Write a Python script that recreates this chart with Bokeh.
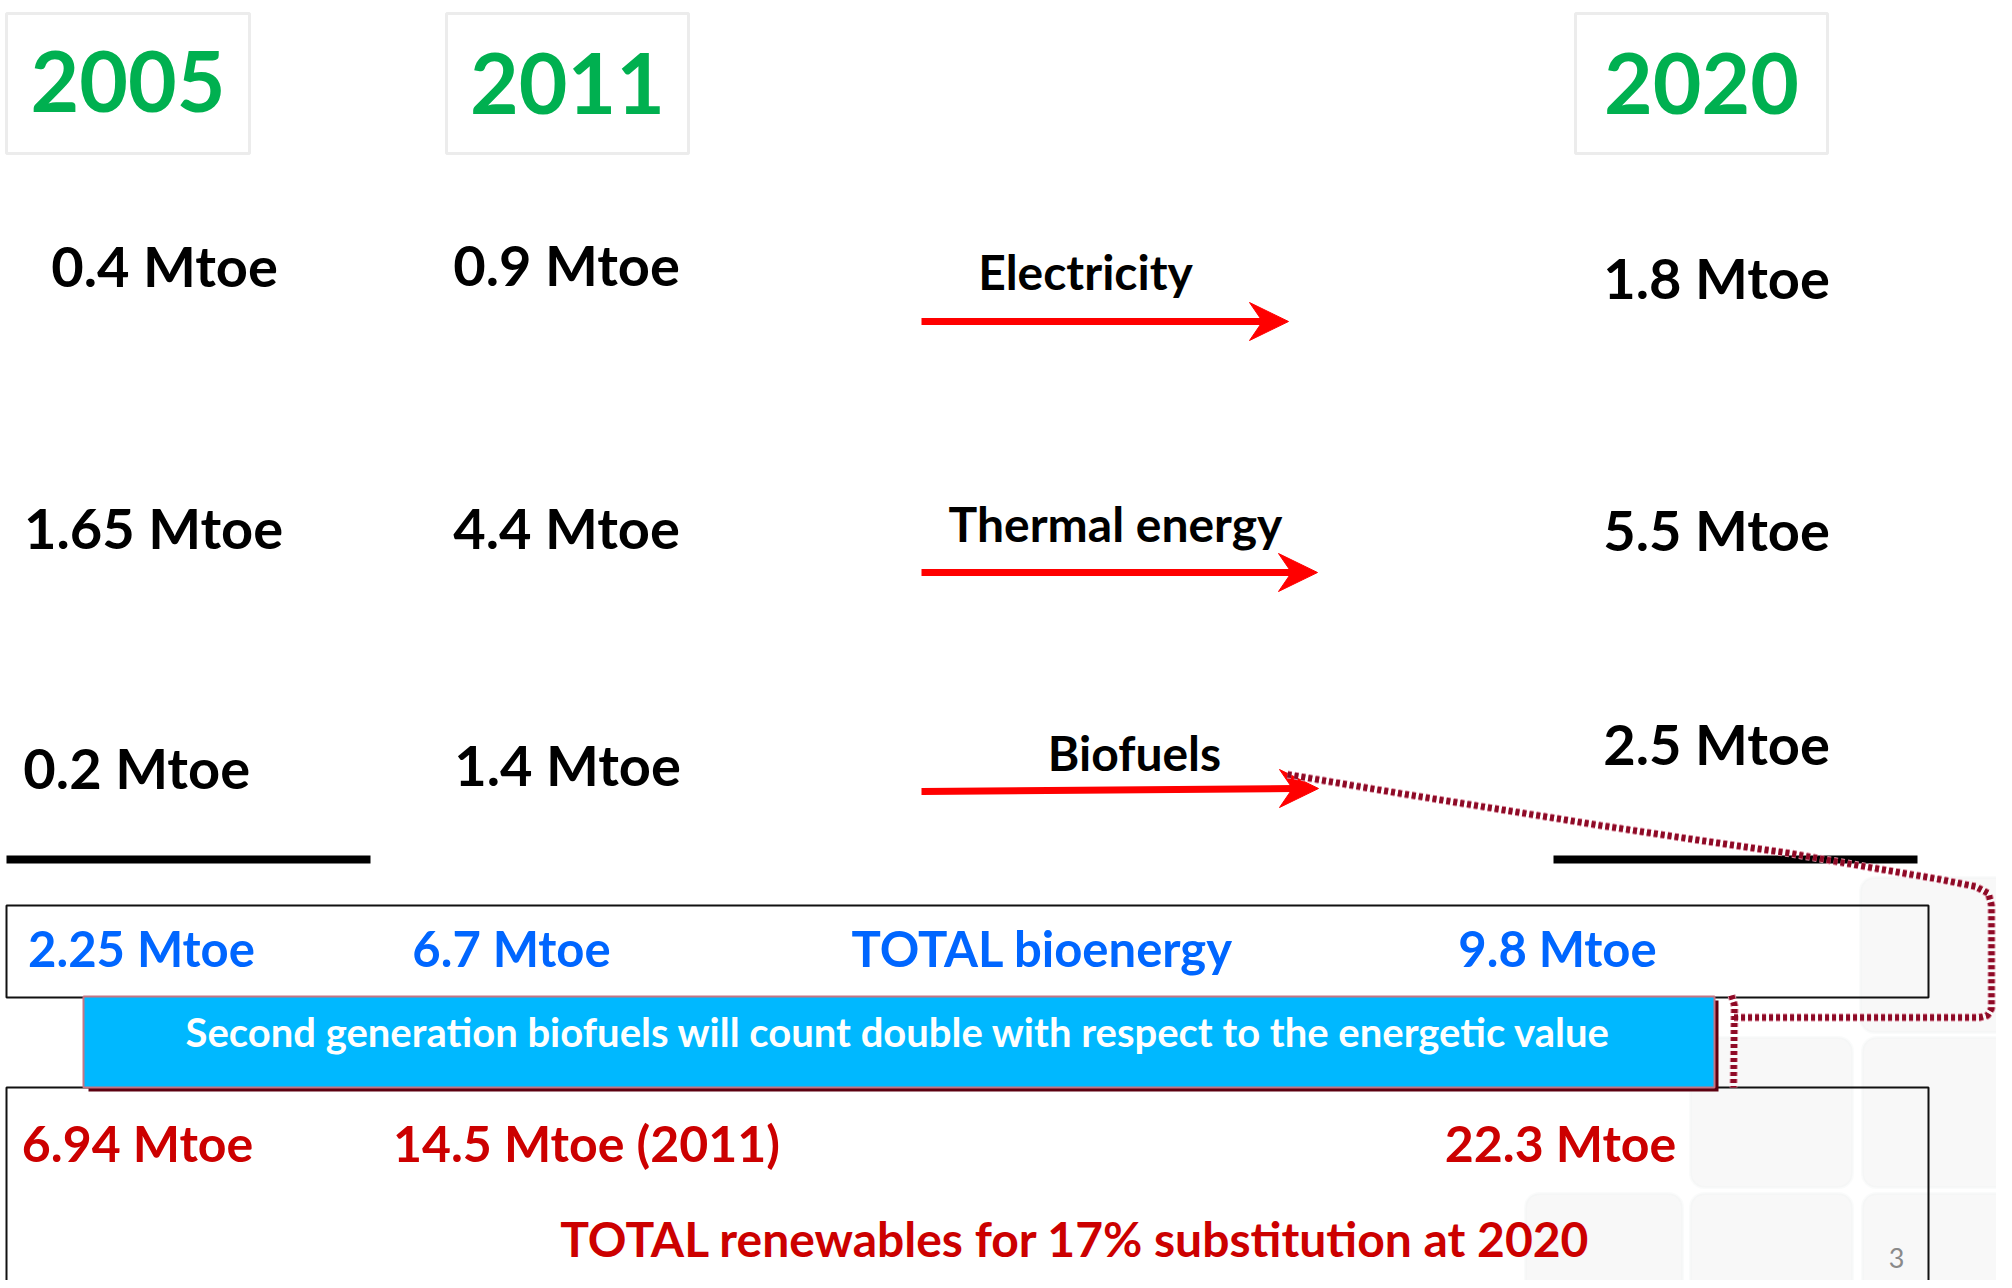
from bokeh.plotting import figure
from bokeh.models import Range1d, BoxAnnotation
from bokeh.core.properties import value
from bokeh.embed import file_html
from bokeh.resources import INLINE

# ---------------- data ----------------
years = ["2005", "2011", "2020"]
sectors = ["Electricity", "Thermal energy", "Biofuels"]
mtoe_2005 = ["0.4 Mtoe", "1.65 Mtoe", "0.2  Mtoe"]
mtoe_2011 = ["0.9 Mtoe", "4.4 Mtoe", "1.4 Mtoe"]
mtoe_2020 = ["1.8 Mtoe", "5.5 Mtoe", "2.5 Mtoe"]
bioenergy_row = ["2.25 Mtoe", "6.7 Mtoe", "TOTAL bioenergy", "9.8 Mtoe"]
renewables_row = ["6.94 Mtoe", "14.5 Mtoe (2011)", "22.3 Mtoe"]
renewables_title = "TOTAL renewables for 17% substitution at 2020"
banner_note = "Second generation biofuels will count double with respect to the energetic value"
page_number = "3"

# ---------------- layout (pixel coordinates of the slide) ----------------
W, H = 1996, 1280
FONT = value("Lato")
GREEN = "#00B050"
BLUE = "#0066FF"
RED = "#CC0000"
SHIFT = 0.40  # em offset of the svg alphabetic baseline

p = figure(width=W, height=H, output_backend="svg", toolbar_location=None,
           x_range=Range1d(0, W), y_range=Range1d(H, 0),
           min_border=0, background_fill_color="white", border_fill_color="white")
p.axis.visible = False
p.grid.visible = False
p.outline_line_color = None


def txt(xs, baselines, texts, size, color, bold=True, align="center"):
    p.text(x=xs, y=[b - SHIFT * size for b in baselines], text=texts,
           text_font=FONT, text_font_style="bold" if bold else "normal",
           text_font_size=f"{size}px", text_color=color, text_align=align,
           text_baseline="alphabetic")


# faint background tiles (bottom right)
tiles = [(1860, 877, 2012, 1032),
         (1690, 1037, 1852, 1187), (1862, 1037, 2012, 1187),
         (1525, 1193, 1682, 1300), (1690, 1193, 1852, 1300), (1862, 1193, 2012, 1300)]
for (l, t, r, b) in tiles:
    p.add_layout(BoxAnnotation(left=l, right=r, top=t, bottom=b, fill_color="#f8f8f8",
                               fill_alpha=1, line_color="#f0f1f1", line_width=3,
                               border_radius=14, level="underlay"))

# year boxes
year_boxes = [(6, 249), (446, 688), (1575, 1827)]
for (l, r) in year_boxes:
    p.add_layout(BoxAnnotation(left=l, right=r, top=13, bottom=153, fill_alpha=0,
                               line_color="#bfbfbf", line_width=3))
txt([(l + r) / 2 for l, r in year_boxes], [115, 117, 117], years, 84, GREEN)

# values per year
cols = [
    (mtoe_2005, [164, 153, 143], [287, 549, 789]),
    (mtoe_2011, [566, 566, 567], [286, 549, 786]),
    (mtoe_2020, [1716, 1716, 1716], [299, 551, 765]),
]
for vals, xs, ys in cols:
    txt(xs, ys, vals, 56, "black")

# sector labels
txt([1085, 1115, 1134], [290, 542, 771], sectors, 48, "black")

# red arrows
arrows = [(921, 321, 1288, 321), (921, 572, 1317, 572), (921, 791, 1318, 788)]
for (x0, y0, tx, ty) in arrows:
    p.line([x0, tx - 24], [y0, ty], line_color="#FF0000", line_width=7, line_cap="butt")
    p.patch([tx, tx - 39, tx - 26, tx - 39], [ty, ty - 19, ty, ty + 19],
            fill_color="#FF0000", line_color="#FF0000", line_width=1)

# black underline bars
p.line([6, 370], [859, 859], line_color="black", line_width=8, line_cap="butt")
p.line([1553, 1917], [859, 859], line_color="black", line_width=8, line_cap="butt")

# bioenergy box
p.quad(left=6, right=1928, top=905, bottom=997, fill_alpha=0,
       line_color="#111111", line_width=2)
txt([141, 511, 1042, 1557], [967, 967, 967, 967], bioenergy_row, 49, BLUE)

# renewables box (bottom open, runs off the slide)
p.quad(left=6, right=1928, top=1087, bottom=1310, fill_alpha=0,
       line_color="#111111", line_width=2)
txt([137, 586, 1560], [1162, 1162, 1162], renewables_row, 50, RED)
txt([1075], [1257], [renewables_title], 48, RED)

# cyan banner with shadow
p.quad(left=88, right=1718, top=1000, bottom=1091, fill_color="#5c0010", line_color=None)
p.quad(left=83, right=1714, top=996, bottom=1087, fill_color="#00B8FF",
       line_color="#c47584", line_width=2)
txt([898], [1047], [banner_note], 40, "white")

# beaded connector from the biofuels arrow
cx = [1287, 1400, 1500, 1600, 1700, 1790, 1870, 1940, 1975, 1988, 1991, 1991, 1987, 1979, 1733]
cy = [774, 793, 809, 825, 840, 853, 867, 879, 886, 893, 905, 1008, 1015, 1017, 1017]
for lw, col in [(8, "#d88a9c"), (6, "#8e0a26")]:
    p.line(cx, cy, line_color=col, line_width=lw, line_dash="4 3")
    p.line([1731, 1734, 1733], [995, 1005, 1087], line_color=col, line_width=lw,
           line_dash="4 3")

# page number
txt([1896], [1268], [page_number], 27, "#8a8a8a", bold=False)

open("out.html", "w").write(file_html(p, INLINE))
